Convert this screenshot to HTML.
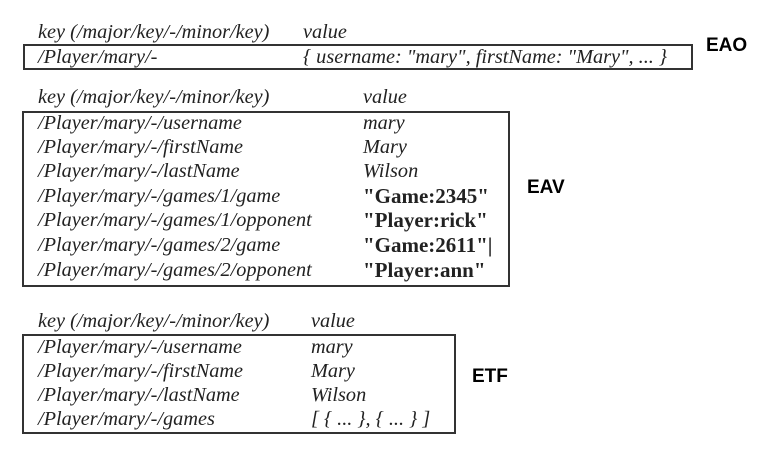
<!DOCTYPE html>
<html><head><meta charset="utf-8"><style>
body{margin:0;width:783px;height:461px;background:#fff;position:relative;overflow:hidden;font-family:"Liberation Serif",serif;color:#222}
.t{position:absolute;font-style:italic;font-size:20.3px;line-height:22px;white-space:nowrap;transform:translateY(-50%)}
.b{font-style:normal;font-weight:bold;font-size:21px}
.box{position:absolute;border:2px solid #333;box-sizing:border-box}
.lab{position:absolute;font-family:"Liberation Sans",sans-serif;font-weight:bold;font-size:19px;transform:translateY(-50%);color:#000}
</style></head><body>
<div class="t" style="left:38px;top:32px">key (/major/key/-/minor/key)</div>
<div class="t" style="left:303px;top:32px">value</div>
<div class="box" style="left:23px;top:44px;width:670px;height:26px"></div>
<div class="t" style="left:38px;top:57px">/Player/mary/-</div>
<div class="t" style="left:303px;top:57px">{ username: "mary", firstName: "Mary", ... }</div>
<div class="lab" style="left:706px;top:46px">EAO</div>

<div class="t" style="left:38px;top:97px">key (/major/key/-/minor/key)</div>
<div class="t" style="left:363px;top:97px">value</div>
<div class="box" style="left:22px;top:111px;width:488px;height:176px"></div>
<div class="t" style="left:38px;top:123px">/Player/mary/-/username</div>
<div class="t" style="left:363px;top:123px">mary</div>
<div class="t" style="left:38px;top:147px">/Player/mary/-/firstName</div>
<div class="t" style="left:363px;top:147px">Mary</div>
<div class="t" style="left:38px;top:171px">/Player/mary/-/lastName</div>
<div class="t" style="left:363px;top:171px">Wilson</div>
<div class="t" style="left:38px;top:196px">/Player/mary/-/games/1/game</div>
<div class="t b" style="left:363px;top:196px">"Game:2345"</div>
<div class="t" style="left:38px;top:220px">/Player/mary/-/games/1/opponent</div>
<div class="t b" style="left:363px;top:220px">"Player:rick"</div>
<div class="t" style="left:38px;top:245px">/Player/mary/-/games/2/game</div>
<div class="t b" style="left:363px;top:245px">"Game:2611"|</div>
<div class="t" style="left:38px;top:270px">/Player/mary/-/games/2/opponent</div>
<div class="t b" style="left:363px;top:270px">"Player:ann"</div>
<div class="lab" style="left:527px;top:188px">EAV</div>

<div class="t" style="left:38px;top:321px">key (/major/key/-/minor/key)</div>
<div class="t" style="left:311px;top:321px">value</div>
<div class="box" style="left:22px;top:334px;width:434px;height:100px"></div>
<div class="t" style="left:38px;top:347px">/Player/mary/-/username</div>
<div class="t" style="left:311px;top:347px">mary</div>
<div class="t" style="left:38px;top:371px">/Player/mary/-/firstName</div>
<div class="t" style="left:311px;top:371px">Mary</div>
<div class="t" style="left:38px;top:395px">/Player/mary/-/lastName</div>
<div class="t" style="left:311px;top:395px">Wilson</div>
<div class="t" style="left:38px;top:419px">/Player/mary/-/games</div>
<div class="t" style="left:311px;top:419px">[ { ... }, { ... } ]</div>
<div class="lab" style="left:472px;top:377px">ETF</div>
</body></html>
